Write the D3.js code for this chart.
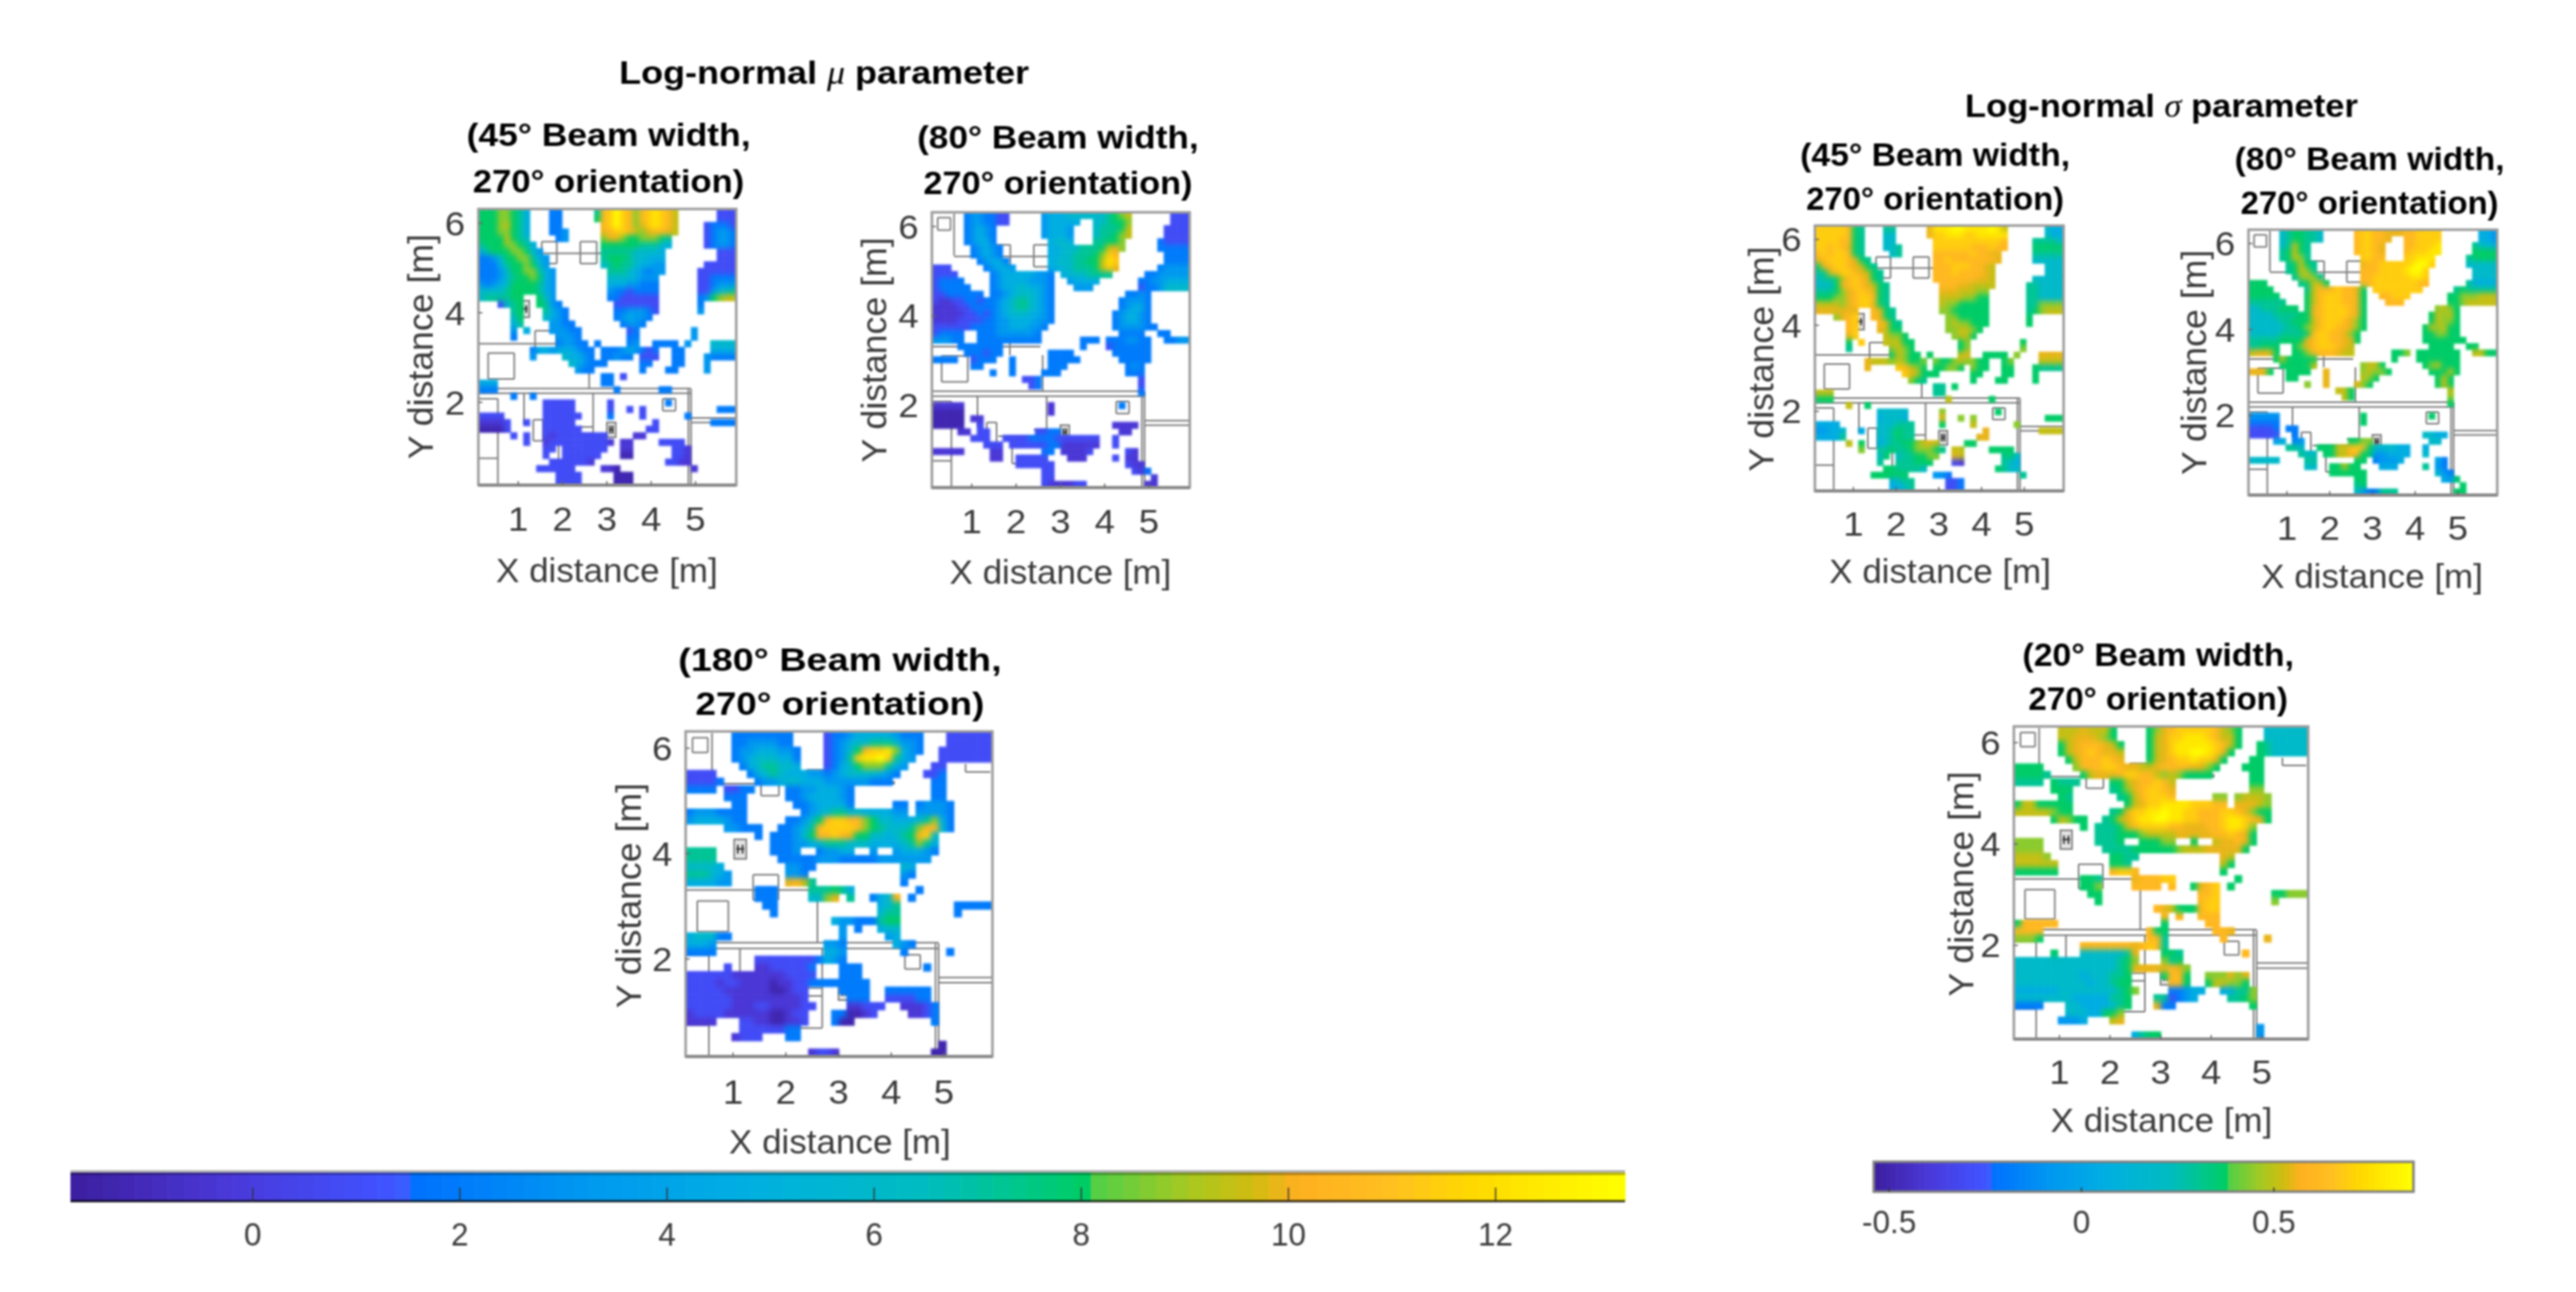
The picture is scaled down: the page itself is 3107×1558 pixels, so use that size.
<!DOCTYPE html>
<html><head><meta charset="utf-8">
<script src="https://cdn.jsdelivr.net/npm/d3@7"></script>
<style>html,body{margin:0;padding:0;background:#fff}svg{display:block;filter:blur(0.9px)}text{font-family:"Liberation Sans",Arial,sans-serif}</style>
</head><body><svg id="c" width="3107" height="1558"></svg>
<script>
// value levels: each grid character 0-f stands for one of these values
const muLevels=[-1.3,-0.3,0.9,2.0,3.2,4.7,6.0,7.2,8.0,8.7,9.5,9.9,10.5,11.4,12.3,13.2];
const sigmaLevels=[-0.5,-0.4,-0.29,-0.19,-0.08,0.06,0.19,0.3,0.37,0.44,0.51,0.55,0.61,0.69,0.78,0.86];
const muDomain=[-1.76,13.25], sigmaDomain=[-0.54,0.863];
const muTicks=[0,2,4,6,8,10,12], sigmaTicks=[-0.5,0,0.5];
const xTicks=[1,2,3,4,5], yTicks=[2,4,6];
const xLim=[0.1,5.92], yLim=[0.15,6.32];
const nCols=40,nRows=42;
// each row: "startColumn:levels ..."
const mu45=["0:88899875 11:33 18:7cdfdc9cdedca 37:222","0:88899875 11:33 18:8cdfdc9cdedca 37:222","0:8889a875 11:33 19:cdfdc9bdedca 35:23332","0:88899875 11:334 19:bcddca9bccba 35:23443","0:8888a876 12:34 19:9bb98899987 35:23443","0:788899875 19:88888877765 35:23443","0:5788899864 19:7777766665 37:222","0:33468899754 19:7888766555 37:222","0:33357889864 19:6787765544 35:22222","0:333468899754 20:777654344 34:222222","0:333467889854 20:66665444 34:223333","0:434568888754 20:55544333 34:223444","0:666678888754 20:43323333 34:224667","0:6777788 9:864 20:33222222 34:3489aa","3:2678 9:8743 21:2222222 34:3","5:78 10:7543 21:3344432 34:4","5:68 10:6543 21:345443","5:57 11:4433 22:3443","5:4 7:5 11:44433 23:23 33:4","5:3 12:4443 23:33 33:4","12:34433 18:3 23:34 27:3333 32:4 36:6666","8:35545 13:5543 17:3 19:333 22:4543 26:23 30:33 36:5555","8:4 13:65543 19:3 20:3433 25:222 30:33 35:43333","14:6543 18:33 25:33 30:33 35:4","15:433 25:3 29:33 35:4","19:33 22:2","0:555 19:33","0:333 21:3 28:33","5:3 8:3","10:22222 20:2 29:3","10:22222 20:2 23:2 25:2 37:333","0:2222 10:222222 20:3 25:2 32:3","0:11112 7:2 10:22222 27:2 36:3333","0:00002 10:222222 26:22","5:2 7:2 10:2122222222 24:11","7:2 10:12222222221 22:11 28:2222","10:22 13:2222222 22:11 30:221","10:2 13:222222 22:00 30:221","11:2222221 29:2211","9:222222 19:110 33:1","12:2222 21:000","12:2222 21:000"];
const mu80=["5:3443322 17:4555666666789a 37:222","5:3443322 17:455555 25:667889 37:222","5:34543 17:45554 25:67778a 36:2222","5:34543 17:45554 25:67789a 36:2222","5:34553 18:5665 25:77889 35:32222","6:34543 18:556667778ab9 35:33333","6:34543 18:556677789dc 36:3333","7:34553 18:56667788aed 36:3333","0:222 8:34554 18:55667778adb 35:34444","0:2222 9:3455555443 20:56667777 33:3 34:344444","0:23333 9:3455554443 21:45555 32:33445555","0:233333 9:3455665543 22:444 32:23346666","0:22333333 9:3345666543 30:3343","0:2112233233 10:456776543 29:34443","0:1111223333456776543 29:34553","0:1111122323456665543 28:345543","0:1111222233445555443 28:345543","0:222222333344555443 28:3444433","0:23333 7:3334444443 29:3333 35:33","0:44433 7:3333333333 23:333 27:3334433 36:3344","4:3333333 23:3 27:2333333","5:333233 18:3333 28:333333","0:3333 6:2333 12:3 18:33333 29:33333","6:33 12:3 18:333 30:343","9:3 12:3 17:333 30:333","14:223 32:2","15:23 32:2","32:3","","0:11111 18:1 29:3","0:00000 18:1","0:00000 6:11","0:00000 7:2 28:1111","4:11 7:22 16:2233 29:11","6:222 11:222233332222222 28:2","8:222 12:22222233 20:111111 28:2","0:11111 9:11 17:33 20:11112 30:21","9:11 13:22222 21:111 28:2 30:11","13:222222 30:211","17:22 31:21 33:3","17:22 34:1","17:2111122 33:11"];
const mu180=["6:33333333 18:2334555554333 34:222222","6:33444433 18:2345667776443 34:222222","6:344555443 18:23468cdde9543 33:2222222","6:345666553 18:2347deefd754 33:2222222","7:35677665 18:23568999754 32:22","0:2222 8:3567655544 18:3456666543 31:223","0:22223 9:344566555444 21:444333 32:33","0:3333 5:2233 13:334455543 32:33","5:333 13:334555543 32:33","6:33 14:33455553 27:33 30:34443","0:34443333 15:34567766555544444443 29:.","0:45555433 13:33468cddcc986655567953","5:4433 9:3 12:33457cddddc98766679cc63","9:3 11:333468ccdcb88665678cd6","11:3334456777666555567975","0:7777 11:3334..34455..4..455543","0:7777 12:33333444333334444444","0:66665 13:4433 28:65","0:77765 5:4 13:443 28:43","0:55554 5:4 13:bca7 28:3","9:333 16:777875 30:3","9:333 16:669b 21:7 24:356c 29:3","10:33 25:567 35:33333","11:3 25:677 35:3","19:544333 25:788","20:4 22:3 25:566","0:5666 4:33 20:4 26:45","0:5554 18:443 27:543","0:3333 18:554 28:3 34:3","9:222222223 18:543","5:2 9:1122222 16:3 20:333 31:3","0:22222211111112222 20:333","0:22221221111011222 16:33333 21:333","0:2222211111100122 20:3333 26:333333","0:2222221111111112 21:333 26:222233","0:22222211122111122 21:11222 28:11123","0:1222211111100122 19:33 21:0012 29:1123","0:1111 7:221100112 19:300 32:3","7:22222233","6:1222 13:33","33:0","16:1221 32:00"];
const sigma45=["0:dddddc87 11:77 18:beeeffeeeefea 37:655","0:dddddc87 11:66 18:bddeeeddeeeee 37:655","0:ddddcc87 11:66 19:dddddddddddc 35:77776","0:ddcdcb87 11:667 19:ddddddcccdcc 35:88888","0:cdcddc87 12:67 19:ccccccdccbb 35:77777","0:bcdddcb87 19:ccdcccccccb 35:66666","0:8bcddcba87 19:cccdddccba 37:666","0:77acddcba87 19:cccdccccba 37:666","0:6778acdcb87 19:cccccccbba 35:66666","0:6668bcdcba87 20:cccbbaaaa 34:776666","0:77789bcdcb87 20:bbbaaa99 34:776666","0:88899bcddc87 20:aaaa9988 34:776666","0:aaaa9bcddb87 20:a9988888 34:779999","0:bbbbbbb 9:cb87 20:99888888 34:789aaa","3:9bcd 9:cb87 21:9988888 34:8","5:cd 10:cb87 21:9a99888 34:8","5:cd 10:ba88 21:99aa98","5:bd 11:a998 22:9aa8","5:8 7:d 11:aaa88 23:89 33:8","5:7 12:9a98 23:89 33:9","12:8a988 18:8 23:ab 27:8888 32:9 36:bbbb","8:baaa9 13:a988 17:9 19:988 22:9a99 26:88 30:89 36:aaaa","8:b 13:dca98 19:8 20:8998 25:988 30:88 35:87777","14:dba8 18:88 25:88 30:88 35:8","15:987 25:8 29:88 35:8","19:77 22:8","0:aaa 19:77","0:888 21:a 28:8","5:a 8:8","10:66666 20:9 29:8","10:56665 20:b 23:9 25:9 37:888","0:5555 10:666777 20:8 25:a 32:9","0:44556 7:5 10:667877 27:b 36:aaaa","0:55557 10:667877 26:bb","5:a 7:8 10:5677889aba 24:88","7:9 10:77877899987 22:aa 28:8888","10:68 13:6778899 22:ba 30:786","10:7 13:777888 22:21 30:765","11:8877776 29:8766","9:888888 19:443 33:7","12:5677 21:223","12:5567 21:223"];
const sigma80=["5:6788776 17:cddccbbbccdddd 37:554","5:6788776 17:cddccb 25:ccdddd 37:554","5:67a87 17:cddcb 25:ccddde 36:7665","5:78a87 17:cddcb 25:cdddee 36:8888","5:78a97 18:ddcc 25:ddeee 35:78888","6:78a87 18:bccdddddeffd 35:66666","6:78a97 18:cccddddeffd 36:6666","7:79a97 18:ccddddddeed 36:6666","0:888 8:78aa8 18:ccdddddddcc 35:75555","0:8888 9:7acccdccb8 20:dddddddd 33:7 34:877777","0:88888 9:8acdddccb8 21:ccddd 32:88999aaa","0:777777 9:8acdddccb8 22:ccc 32:889aaaaa","0:66777888 9:8bcddddcb8 30:9a98","0:6666777788 10:bcddddcb8 29:8a9a8","0:6666677888acdddcb98 29:8a998","0:6666667789acddccb98 28:8a9a88","0:666667777 9:8cddccb98 28:889988","0:777778888bcddccbb8 28:8888888","0:77888 7:89bcdddcba 29:8888 35:88","0:abbb8 7:889ccccbaa 23:889 27:8888888 36:aa88","4:8a88888 23:8 27:8888888","5:88888a 18:9aa8 28:89a888","0:bbb8 6:8888 12:b 18:9a998 29:888a8","6:88 12:b 18:a98 30:8a8","9:9 12:b 17:b98 30:8a8","14:aa8 32:a","15:a8 32:9","32:8","","0:44444 18:8 29:8","0:33333 18:8","0:22223 6:33","0:22222 7:3 28:6655","4:55 7:34 16:8899 29:66","6:776 11:888aacdc8666655 28:5","8:766 12:88aacc88 20:445555 28:6","0:66666 9:77 17:88 20:34445 30:53","9:66 13:88a88 21:555 28:7 30:43","13:888888 30:643","17:88 31:54 33:8","17:78 34:8","17:6433777 33:88"];
const sigma20=["6:aaabaaa8 18:89bcdddddca98 34:666666","6:aabbba98 18:8abddeeedcaa8 34:666666","6:8abcccba8 18:8abdeeeeedca8 33:8766666","6:8abcdcbba 18:8abdeeffedb8 33:8766666","7:8acccdcb 18:8abcddeddb8 32:88","0:8888 8:9cccddcbba 18:abccccbb98 31:888","0:88887 9:8abbbcddcca9 21:a98888 32:88","0:7777 5:8777 13:88abccdca 32:88","5:888 13:789bcddcb 32:99","6:87 14:78acdddc 27:99 30:9aaa9","0:8aa88888 15:8abddeeeedddcccbbba9 29:.","0:aaaaa988 13:78bddeefeeddcccddcb988","5:8a98 9:8 12:78abdeeffeeddcccdeedcb8","9:8 11:7778acddddccbbbccdeed9","11:7778889aaaabbbbbccdcb8","0:9999 11:7778..88899..8..abbcb8","0:9999 12:77778888889aaabbbbb8","0:aaaa9 13:8877 28:ba","0:aaaaa 5:a 13:887 28:a8","0:88888 5:8 13:cddc 28:8","9:887 16:bcccdd 30:8","9:889 16:cccc 21:c 24:8bcd 29:8","10:88 25:ccd 35:88999","11:8 25:cdd 35:9","19:cba888 25:cdd","20:c 22:c 25:ccc","0:8ccc 4:cc 20:8 26:cc","0:cccc 18:c88 27:ccb","0:9998 18:cc7 28:c 34:b","9:cccccccbc 18:dc7","5:8 9:6666667 16:b 20:887 31:c","0:66666666666666789 20:978","0:66666666666666789 16:bbbbb 21:cb9","0:6666666665666778 20:8cc8 26:999b9b","0:6666666666566788 21:cc8 26:8aa998","0:55555566666666789 21:33455 28:55779","0:6666666655555778 19:77 21:2345 29:7789","0:3333 7:665555678 19:b33 32:8","7:66655889","6:4445 13:ab","33:4","16:5788 33:4"];
// floor plan in metres: [x1,y1,x2,y2]
const wallSegments=[[0.1,3.31,2.55,3.31],[1.38,3.6,1.38,3.12],[1.38,3.6,1.86,3.6],[1.86,3.6,1.86,3.12],[1.38,3.12,1.5,3.12],[0.23,6.2,0.52,6.2],[0.23,5.92,0.52,5.92],[0.23,6.2,0.23,5.92],[0.52,6.2,0.52,5.92],[0.6,6.29,0.6,5.35],[0.6,5.33,4.07,5.33],[1.53,5.59,1.87,5.59],[1.53,5.1,1.87,5.1],[1.87,5.59,1.87,5.1],[1.53,5.59,1.53,5.1],[2.4,5.59,2.77,5.59],[2.4,5.1,2.77,5.1],[2.4,5.59,2.4,5.1],[2.77,5.59,2.77,5.1],[5.41,5.7,5.41,5.55],[5.41,5.55,5.88,5.55],[0.32,3.1,0.91,3.1],[0.32,2.52,0.91,2.52],[0.32,3.1,0.32,2.52],[0.91,3.1,0.91,2.52],[2.6,3.12,2.6,2.32],[0.1,2.31,4.9,2.31],[0.1,2.2,4.9,2.2],[4.84,2.3,4.84,0.15],[4.9,2.3,4.9,0.15],[4.91,1.65,5.92,1.65],[4.91,1.55,5.92,1.55],[4.26,2.08,4.55,2.08],[4.26,1.81,4.55,1.81],[4.26,2.08,4.26,1.81],[4.55,2.08,4.55,1.81],[0.1,2.08,0.54,2.08],[0.54,2.08,0.54,0.15],[0.1,0.75,0.54,0.75],[1.13,2.2,1.13,1.5],[2.69,2.2,2.69,0.69],[1.91,0.69,2.69,0.69],[1.91,1.3,1.91,0.69],[2.4,1.45,2.69,1.45],[1.34,1.61,1.56,1.61],[1.34,1.14,1.56,1.14],[1.34,1.61,1.34,1.14],[1.56,1.61,1.56,1.14],[1.6,1.3,2.69,1.3],[3.6,5.36,4.07,5.36]];
const iconBoxes=[[1.02,4.27,1.25,3.9],[3.0,1.55,3.2,1.22]];
const iconMarks=[[1.06,4.09,1.21,4.09],[1.09,4.17,1.09,4.0],[1.18,4.17,1.18,4.0],[3.05,1.39,3.15,1.39],[3.07,1.48,3.07,1.3],[3.13,1.48,3.13,1.3]];
// layout of the six panels, in page pixels
const panels=[
 {id:"a",rows:mu45,lv:muLevels,dom:muDomain,box:[577,888,252,585],title:["(45° Beam width,","270° orientation)"],tx:734,ty:[162,218],tw:340,tick:626,xl:[732,687],yl:[507,418]},
 {id:"b",rows:mu80,lv:muLevels,dom:muDomain,box:[1124,1435,256,588],title:["(80° Beam width,","270° orientation)"],tx:1276,ty:[165,220],tw:337,tick:629,xl:[1279,689],yl:[1054,422]},
 {id:"c",rows:mu180,lv:muLevels,dom:muDomain,box:[827,1197,882,1274],title:["(180° Beam width,","270° orientation)"],tx:1013,ty:[795,848],tw:362,tick:1317,xl:[1013,1376],yl:[758,1080]},
 {id:"d",rows:sigma45,lv:sigmaLevels,dom:sigmaDomain,box:[2189,2489,272,592],title:["(45° Beam width,","270° orientation)"],tx:2334,ty:[186,239],tw:323,tick:632,xl:[2340,688],yl:[2124,433]},
 {id:"e",rows:sigma80,lv:sigmaLevels,dom:sigmaDomain,box:[2712,3012,277,597],title:["(80° Beam width,","270° orientation)"],tx:2858,ty:[191,244],tw:323,tick:637,xl:[2861,694],yl:[2646,437]},
 {id:"f",rows:sigma20,lv:sigmaLevels,dom:sigmaDomain,box:[2429,2784,876,1253],title:["(20° Beam width,","270° orientation)"],tx:2603,ty:[789,842],tw:325,tick:1293,xl:[2607,1350],yl:[2365,1066]}
];
const stops=[[0,"#3c1e9e"],[0.1,"#4a38d8"],[0.2,"#4052ff"],[0.218,"#3860ff"],[0.219,"#0070ff"],[0.33,"#0098f0"],[0.44,"#00b0e0"],[0.55,"#00bcc0"],[0.64,"#00cc70"],[0.656,"#00cc60"],[0.657,"#50d048"],[0.72,"#a8c820"],[0.76,"#d0bc10"],[0.79,"#ffb020"],[0.85,"#ffc020"],[0.9,"#ffd800"],[1,"#ffff00"]];
const cmap=d3.scaleLinear().domain(stops.map(d=>d[0])).range(stops.map(d=>d[1]));
const svg=d3.select("#c");
const defs=svg.append("defs");
const flt=defs.append("filter").attr("id","soft").attr("filterUnits","userSpaceOnUse").attr("x",0).attr("y",0).attr("width",3107).attr("height",1558).attr("color-interpolation-filters","sRGB");
flt.append("feGaussianBlur").attr("in","SourceGraphic").attr("stdDeviation",3).attr("result","b");
flt.append("feComponentTransfer").attr("in","b").attr("result","o").append("feFuncA").attr("type","linear").attr("slope",30);
flt.append("feGaussianBlur").attr("in","SourceAlpha").attr("stdDeviation",1.1).attr("result","m");
flt.append("feComposite").attr("in","o").attr("in2","m").attr("operator","in");
const hexv="0123456789abcdef";
function parseCells(rows,lv){const m=new Map();rows.forEach((r,ri)=>{r.split(" ").filter(Boolean).forEach(seg=>{const [s,v]=seg.split(":");[...v].forEach((ch,i)=>{const col=+s+i;if(col>=nCols)return;const k=col+"_"+ri;if(ch==="."){m.delete(k);return;}m.set(k,{col,row:ri,value:lv[hexv.indexOf(ch)]});});});});return [...m.values()];}
function label(g,x,y,s,size,sx,opt={}){return g.append("text").attr("transform",`translate(${x},${y}) scale(${sx},1)`).attr("text-anchor",opt.anchor||"middle").attr("dy","0.36em").attr("font-size",size).attr("font-weight",opt.bold?"bold":null).attr("fill",opt.fill||"#3a3a3a").text(s);}
panels.forEach(p=>{
 const [x0,x1,y0,y1]=p.box;
 const x=d3.scaleLinear().domain(xLim).range([x0,x1]), y=d3.scaleLinear().domain(yLim).range([y1,y0]);
 const g=svg.append("g");
 defs.append("clipPath").attr("id","clip"+p.id).append("rect").attr("x",x0).attr("y",y0).attr("width",x1-x0).attr("height",y1-y0);
 // floor plan under the heat
 g.append("g").selectAll("line").data(wallSegments).join("line").attr("x1",d=>x(d[0])).attr("y1",d=>y(d[1])).attr("x2",d=>x(d[2])).attr("y2",d=>y(d[3])).attr("stroke","#808080").attr("stroke-width",2);
 g.append("g").selectAll("rect").data(iconBoxes).join("rect").attr("x",d=>x(d[0])).attr("y",d=>y(d[1])).attr("width",d=>x(d[2])-x(d[0])).attr("height",d=>y(d[3])-y(d[1])).attr("fill","#e4e4e4").attr("stroke","#808080").attr("stroke-width",2);
 g.append("g").selectAll("line").data(iconMarks).join("line").attr("x1",d=>x(d[0])).attr("y1",d=>y(d[1])).attr("x2",d=>x(d[2])).attr("y2",d=>y(d[3])).attr("stroke","#333").attr("stroke-width",2);
 // heat cells
 const col=d3.scaleLinear().domain([0,nCols]).range(xLim), row=d3.scaleLinear().domain([0,nRows]).range([yLim[1],yLim[0]]);
 const t=d3.scaleLinear().domain(p.dom).range([0,1]);
 const cells=parseCells(p.rows,p.lv);
 g.append("g").attr("clip-path",`url(#clip${p.id})`).append("g").attr("filter","url(#soft)").selectAll("rect").data(cells).join("rect")
  .attr("x",d=>x(col(d.col))-0.3).attr("y",d=>y(row(d.row))-0.3)
  .attr("width",d=>x(col(d.col+1))-x(col(d.col))+0.6).attr("height",d=>y(row(d.row+1))-y(row(d.row))+0.6)
  .attr("fill",d=>cmap(t(d.value)));
 // frame and ticks
 g.append("rect").attr("x",x0).attr("y",y0).attr("width",x1-x0).attr("height",y1-y0).attr("fill","none").attr("stroke","#9a9a9a").attr("stroke-width",3);
 g.append("line").attr("x1",x0).attr("x2",x1).attr("y1",y1).attr("y2",y1).attr("stroke","#8a8a8a").attr("stroke-width",4);
 g.selectAll("line.xt").data(xTicks).join("line").attr("class","xt").attr("x1",d=>x(d)).attr("x2",d=>x(d)).attr("y1",y1).attr("y2",y1-5).attr("stroke","#666").attr("stroke-width",1.5);
 g.selectAll("line.yt").data(yTicks).join("line").attr("class","yt").attr("y1",d=>y(d)).attr("y2",d=>y(d)).attr("x1",x0).attr("x2",x0+5).attr("stroke","#666").attr("stroke-width",1.5);
 xTicks.forEach(v=>label(g,x(v),p.tick,d3.format("d")(v),40,1.1));
 yTicks.forEach(v=>label(g,x0-16,y(v),d3.format("d")(v),40,1.1,{anchor:"end"}));
 label(g,p.xl[0],p.xl[1],"X distance [m]",41,1.03);
 g.append("text").attr("transform",`translate(${p.yl[0]},${p.yl[1]}) rotate(-90)`).attr("text-anchor","middle").attr("dy","0.36em").attr("font-size",43).attr("fill","#3a3a3a").text("Y distance [m]");
 const sx=p.tw/310;
 p.title.forEach((s,i)=>label(g,p.tx,p.ty[i],s,39,sx*(i?0.976:1),{bold:true,fill:"#000"}));
});
function mainTitle(cx,cy,greek,sx){
 const tx=svg.append("text").attr("transform",`translate(${cx},${cy}) scale(${sx},1)`).attr("text-anchor","middle").attr("dy","0.36em").attr("font-size",39).attr("font-weight","bold").attr("fill","#000");
 tx.append("tspan").text("Log-normal ");
 tx.append("tspan").attr("font-family","'Liberation Serif',serif").attr("font-style","italic").attr("font-weight","normal").text(greek);
 tx.append("tspan").text(" parameter");
}
mainTitle(994,87,"μ",1.113);
mainTitle(2607,127,"σ",1.068);
function colorbar(x0,x1,y0,y1,dom,ticks,tickLen,labelY,fmt,sides){
 const s=d3.scaleLinear().domain(dom).range([x0,x1]);
 const n=96, bands=d3.range(n);
 const g=svg.append("g");
 g.selectAll("rect").data(bands).join("rect").attr("x",i=>x0+(x1-x0)*i/n).attr("y",y0).attr("width",(x1-x0)/n+0.6).attr("height",y1-y0).attr("fill",i=>cmap((i+0.5)/n));
 if(sides){
  g.append("rect").attr("x",x0).attr("y",y0).attr("width",x1-x0).attr("height",y1-y0).attr("fill","none").attr("stroke","#7f7f7f").attr("stroke-width",3);
 }else{
  g.append("rect").attr("x",x0).attr("y",y0).attr("width",x1-x0).attr("height",3).attr("fill","#000").attr("opacity",0.28);
  g.append("rect").attr("x",x0).attr("y",y0-3).attr("width",x1-x0).attr("height",3).attr("fill","#b4b4b4");
  g.append("rect").attr("x",x0).attr("y",y1-2).attr("width",x1-x0).attr("height",3).attr("fill","#000").attr("opacity",0.7);
 }
 g.selectAll("line").data(ticks).join("line").attr("x1",d=>s(d)).attr("x2",d=>s(d)).attr("y1",y1).attr("y2",y1-tickLen).attr("stroke","#333").attr("stroke-width",1.5);
 ticks.forEach(v=>label(g,s(v),labelY,fmt(v),38,1.0,{fill:"#3a3a3a"}));
}
colorbar(85,1960,1414,1449,muDomain,muTicks,17,1488,d3.format("d"),false);
colorbar(2260,2911,1401,1437,sigmaDomain,sigmaTicks,5,1473,v=>v===0?"0":String(v),true);
</script></body></html>
